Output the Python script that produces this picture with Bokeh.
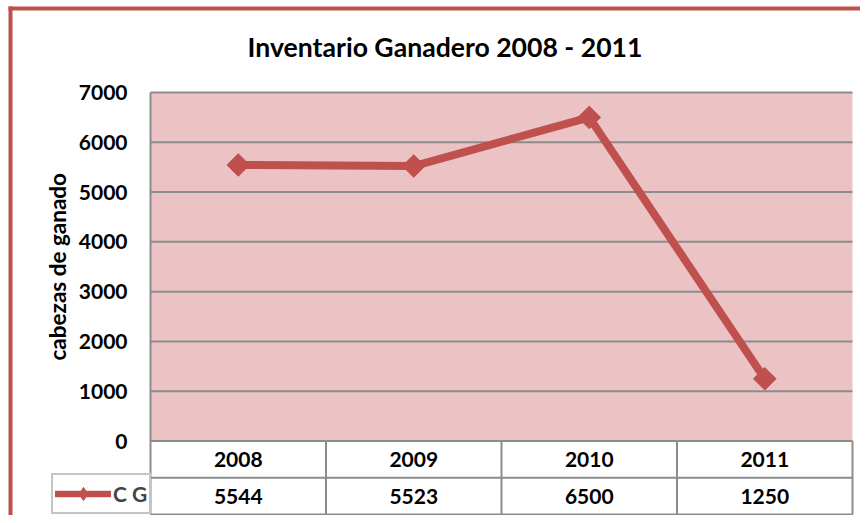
import math
from bokeh.plotting import figure
from bokeh.models import Range1d, Label, Legend, LegendItem
from bokeh.core.properties import value
from bokeh.embed import file_html
from bokeh.resources import INLINE

# ---- data ----
years = ["2008", "2009", "2010", "2011"]
cg = [5544, 5523, 6500, 1250]
y_ticks = [0, 1000, 2000, 3000, 4000, 5000, 6000, 7000]
series_name = "C G"
title_text = "Inventario Ganadero 2008 - 2011"
y_label = "cabezas de ganado"

# ---- style / layout ----
RED = "#C0504D"
PINK = "#EBC3C5"
GRAY = "#8C8C8C"
FONT = "Lato"
W, H = 860, 515
PLOT_L, PLOT_R, PLOT_T, PLOT_B = 150, 852, 92, 440.5   # plot area in px
ROW_PX = 36.8                                         # table row height px

n = len(years)
idx = list(range(n))
cat_w = (PLOT_R - PLOT_L) / n
k = y_ticks[-1] / (PLOT_B - PLOT_T)                   # data units per px
x_start = -0.5 - PLOT_L / cat_w
x_end = n - 0.5 + (W - PLOT_R) / cat_w
y_end = y_ticks[-1] + PLOT_T * k
y_start = -(H - PLOT_B) * k


def px2x(px):
    return x_start + px / cat_w


def px2y(py):
    return y_end - py * k


row_h = ROW_PX * k

p = figure(width=W, height=H, output_backend="svg", toolbar_location=None,
           x_range=Range1d(x_start, x_end), y_range=Range1d(y_start, y_end),
           x_axis_type=None, y_axis_type=None, tools="")
p.min_border = 0
p.min_border_left = 0
p.min_border_right = 0
p.min_border_top = 0
p.min_border_bottom = 0
p.outline_line_color = None
p.background_fill_color = "white"
p.border_fill_color = "white"
p.xgrid.visible = False
p.ygrid.visible = False

# plot-area pink background
p.quad(left=-0.5, right=n - 0.5, bottom=y_ticks[0], top=y_ticks[-1],
       fill_color=PINK, line_color=None)

# horizontal grid lines
p.segment(x0=[-0.5] * (len(y_ticks) - 1), x1=[n - 0.5] * (len(y_ticks) - 1),
          y0=y_ticks[1:], y1=y_ticks[1:], line_color=GRAY, line_width=2)

# value axis line (continues as the table's left edge)
p.segment(x0=[-0.5], x1=[-0.5], y0=[y_ticks[-1]], y1=[-2 * row_h],
          line_color=GRAY, line_width=2)

# tick labels
p.text(x=[px2x(127)] * len(y_ticks), y=y_ticks, text=[str(t) for t in y_ticks],
       text_align="right", text_baseline="middle", text_font=value(FONT),
       text_font_style="bold", text_font_size="21px", text_color="black")

# data table lines
p.segment(x0=[-0.5] * 3, x1=[n - 0.5] * 3, y0=[0, -row_h, -2 * row_h],
          y1=[0, -row_h, -2 * row_h], line_color=GRAY, line_width=2)
p.segment(x0=[i + 0.5 for i in idx], x1=[i + 0.5 for i in idx],
          y0=[0] * n, y1=[-2 * row_h] * n, line_color=GRAY, line_width=2)

# table text
p.text(x=idx, y=[-row_h / 2] * n, text=years, text_align="center",
       text_baseline="middle", text_font=value(FONT), text_font_style="bold",
       text_font_size="21px", text_color="black")
p.text(x=idx, y=[-1.5 * row_h] * n, text=[str(v) for v in cg],
       text_align="center", text_baseline="middle", text_font=value(FONT),
       text_font_style="bold", text_font_size="21px", text_color="black")

# series
lr = p.line(idx, cg, line_color=RED, line_width=8, line_cap="round",
            line_join="round")
sr = p.scatter(idx, cg, marker="square", angle=math.pi / 4, size=16,
               fill_color=RED, line_color=RED)

# legend swatch renderers (no visible data in the plot area)
lg_line = p.line([float("nan")], [float("nan")], line_color=RED, line_width=6.5,
                 line_cap="round")
lg_marker = p.scatter([float("nan")], [float("nan")], marker="diamond",
                      size=16, fill_color=RED, line_color=RED)

legend = Legend(items=[LegendItem(label=series_name,
                                  renderers=[lg_line, lg_marker])],
                location=(51, 1), orientation="vertical",
                border_line_color=GRAY, border_line_width=2,
                background_fill_color="white", background_fill_alpha=1,
                padding=2, margin=0, spacing=0,
                glyph_width=56, glyph_height=33, label_height=33,
                label_standoff=2, label_text_font=FONT,
                label_text_font_style="bold", label_text_font_size="21px")
p.add_layout(legend)

# title
p.add_layout(Label(x=px2x(444.5), y=px2y(46), text=title_text,
                   text_align="center", text_baseline="alphabetic",
                   text_font=FONT, text_font_style="bold",
                   text_font_size="26.6px", text_color="black"))

# y axis title
p.add_layout(Label(x=px2x(57), y=(y_ticks[0] + y_ticks[-1]) / 2, text=y_label,
                   angle=math.pi / 2, text_align="center",
                   text_baseline="middle", text_font=FONT,
                   text_font_style="bold", text_font_size="22.5px",
                   text_color="black"))

# outer red frame (left and top edges visible)
p.quad(left=[px2x(8), px2x(8)], right=[px2x(12), x_end],
       top=[px2y(6), px2y(6)], bottom=[y_start, px2y(10)],
       fill_color=RED, line_color=None)

open("out.html", "w").write(file_html(p, INLINE))
